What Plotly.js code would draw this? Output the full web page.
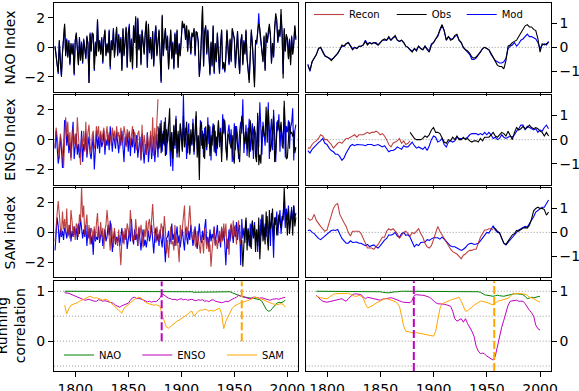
<!DOCTYPE html>
<html><head><meta charset="utf-8">
<script src="https://cdn.plot.ly/plotly-3.0.1.min.js"></script>
<style>html,body{margin:0;padding:0;background:#fff}#chart{width:579px;height:391px}</style>
</head><body><div id="chart"></div>
<script>
// ---------------- DATA ----------------
const annualStart = 1781;           // annual series NAO/ENSO/SAM (Mod, NAO Obs) start year
const ensoRecStart = 1781, ensoObsStart = 1878;
const samRecStart = 1781, samObsStart = 1957;
const smoothStart = 1782, ensoSmObsStart = 1878, samSmObsStart = 1956; // biennial smoothed
const corrStart = 1790;             // biennial running correlations
const xTickVals = [1800, 1850, 1900, 1950, 2000];
const legendNames = ['Recon', 'Obs', 'Mod'];
const corrNames = ['NAO', 'ENSO', 'SAM'];
const yTitles = ['NAO Index', 'ENSO Index', 'SAM index', 'Running<br>correlation'];

const naoObs = [0.0,-0.8,-1.2,-1.7,0.5,-1.1,-1.9,-0.4,0.6,1.6,
-0.6,0.5,-0.7,0.4,-1.1,0.3,-0.5,0.2,-1.8,0.4,
1.0,-0.5,-1.2,0.6,-0.9,0.3,-1.0,0.5,-0.4,-0.7,
0.8,0.2,-2.4,0.9,-0.3,1.0,0.8,-1.5,0.3,-0.6,
1.9,-0.3,0.4,-0.5,0.6,-1.0,0.5,1.2,-0.6,0.2,
-0.4,1.1,-1.3,0.4,-0.2,1.2,-0.7,0.6,1.4,-0.5,
0.8,-0.4,0.6,-1.6,1.3,-0.6,0.7,1.4,-1.3,0.9,
1.4,-1.0,0.5,-1.4,1.5,0.3,2.1,-1.4,2.0,-0.2,
0.8,-1.2,1.1,0.4,-0.5,1.0,1.8,-1.3,1.6,-0.4,
0.6,-0.8,1.1,-1.2,0.8,1.5,-0.6,0.3,1.2,-0.5,
-2.3,2.2,-0.6,0.5,1.3,-0.2,0.7,-1.5,0.4,1.2,
-0.8,0.3,-1.4,0.9,-0.5,1.2,-1.4,0.2,-0.6,0.8,
1.8,1.3,1.6,0.5,1.5,-0.3,1.2,0.6,-0.4,1.0,
0.7,1.3,-0.5,1.1,0.9,0.4,-2.0,-1.0,0.8,2.8,
-1.3,1.0,1.5,-0.4,1.2,-0.6,-1.8,0.4,-1.2,1.5,
-1.7,0.3,-0.9,1.0,-0.5,-1.7,0.2,1.2,-1.4,-1.0,
-1.6,-0.6,1.2,0.3,-1.1,0.6,-0.9,1.3,0.8,0.6,
-1.4,0.2,1.1,-0.6,-1.8,0.3,0.9,-1.2,0.4,-0.5,
1.2,-0.8,-1.8,-2.4,-0.6,1.2,0.2,-1.2,-2.7,0.5,
0.3,1.1,1.6,1.3,0.6,-0.2,-1.0,0.8,-1.6,1.0,
0.4,1.1,1.6,0.9,-1.1,0.3,-0.6,1.4,2.3,1.9,
0.4,1.2,0.8,2.6,1.0,-2.1,1.3,-0.3,0.9,0.5,
-0.8,0.5,-1.2,0.7,-0.5,0.2,1.5,0.6];
const naoMod = [0.1,-0.7,-1.3,-1.8,0.4,-1.0,-2.0,-0.3,0.7,1.5,
-0.5,0.6,-0.6,0.5,-1.2,0.2,-0.4,0.3,-1.9,0.5,
0.9,-0.6,-1.1,0.7,-0.8,0.4,-1.1,0.6,-0.3,-0.8,
0.7,0.3,-2.4,1.0,-0.2,0.9,0.9,-1.6,0.4,-0.5,
1.8,-0.2,0.5,-0.4,0.7,-1.1,0.6,1.1,-0.5,0.3,
-0.3,1.2,-1.5,0.5,-0.1,1.3,-0.6,0.7,1.3,-0.6,
0.9,-0.3,0.7,-1.5,1.2,-0.5,0.8,1.3,-1.4,1.0,
1.6,-0.9,0.6,-1.5,1.4,0.4,2.0,-1.3,1.9,-0.1,
0.9,-1.1,1.2,0.5,-0.4,0.9,1.7,-1.4,1.5,-0.3,
0.7,-0.7,1.0,-1.3,0.9,1.4,-0.5,0.4,1.1,-0.6,
-2.4,2.1,-0.5,0.6,1.2,-0.1,0.8,-1.4,0.5,1.1,
-0.7,0.4,-1.5,1.0,-0.4,1.1,-1.3,0.3,-0.5,0.7,
1.7,1.4,1.5,0.6,1.4,-0.2,1.1,0.7,-0.5,0.9,
0.8,1.2,-0.6,1.0,1.0,0.3,-1.9,-1.1,0.9,2.6,
-1.2,1.1,1.4,-0.5,1.1,-0.7,-1.9,0.3,-1.3,1.4,
-1.8,0.2,-1.0,0.9,-0.6,-1.8,0.1,1.1,-1.5,-1.1,
-1.7,-0.7,1.1,0.2,-1.2,0.5,-1.0,1.2,0.7,0.5,
-1.3,0.3,1.0,-0.7,-1.7,0.4,0.8,-1.1,0.5,-0.4,
1.1,-0.7,-1.6,-2.2,-0.5,1.0,0.3,-1.0,-2.4,0.4,
0.2,1.0,2.3,1.0,0.5,-0.3,-0.9,0.7,-1.5,0.8,
0.3,1.0,1.3,0.8,-1.0,0.2,-0.7,1.2,2.0,1.6,
0.3,1.0,0.7,2.2,0.9,-1.8,1.2,-0.2,0.8,0.6,
-0.7,0.6,-1.1,0.8,-0.4,0.3,1.4,0.5];

const ensoRecon = [-0.5,0.8,0.2,-0.6,-1.3,0.4,-0.2,-0.8,-1.9,0.3,
1.5,0.2,1.2,-0.4,0.5,-1.4,0.1,0.8,-0.3,0.4,
-0.6,1.5,0.3,-1.0,-1.7,0.2,-0.5,0.6,-0.8,1.2,
-1.0,0.5,1.0,-0.4,-0.9,0.3,0.6,-0.6,-0.3,0.9,
0.2,0.9,-0.3,0.6,-0.2,0.4,0.8,-0.5,0.3,0.9,
-0.2,0.5,0.2,-0.4,0.8,0.1,0.6,-0.3,0.9,0.2,
0.5,-0.6,0.8,0.3,-0.2,0.9,0.4,-0.5,0.7,0.1,
0.6,-0.4,0.3,0.9,-0.3,0.5,0.2,-0.7,0.4,0.6,
-0.4,-1.3,1.0,-0.8,0.3,-0.5,-1.0,0.4,-0.6,-0.9,
0.6,-0.9,1.5,-1.1,0.8,-0.6,1.2,2.7];
const ensoMod = [-0.6,0.6,-0.5,-1.6,-1.0,0.2,-0.6,-1.9,-0.8,1.3,
1.2,-0.4,0.4,-0.9,-0.2,-1.2,0.3,1.2,-1.3,-0.5,
0.4,-1.0,-0.3,-1.2,-0.8,0.6,-1.5,-0.3,-0.7,0.5,
-1.2,-0.4,0.2,-0.9,-1.3,-0.5,0.3,-2.0,-0.8,0.6,
-0.6,0.2,-0.9,0.4,-0.5,-0.2,0.6,-1.0,0.0,-0.4,
0.3,-0.7,0.9,-0.3,-0.8,0.4,-0.2,-0.6,0.5,-0.3,
-0.9,0.3,-0.4,0.6,-0.7,-1.5,0.2,-0.4,0.4,-0.8,
0.5,-1.1,0.1,-0.5,0.7,-0.9,-0.2,0.3,-1.2,-0.4,
0.2,-1.4,0.4,-0.7,-1.6,-0.3,-1.0,0.5,-1.5,-0.6,
0.3,-1.3,-0.4,0.2,-1.5,-0.7,0.4,-1.2,0.8,-0.5,
1.3,-0.8,0.6,-0.4,1.5,-1.0,0.2,1.1,-0.3,-1.8,
0.5,-2.1,0.9,-0.6,1.6,-1.2,0.4,-0.8,1.0,0.2,
-0.7,3.0,-0.5,0.8,-1.3,0.3,1.1,-0.9,0.2,-0.4,
1.4,-1.0,0.5,1.6,-0.6,0.2,-1.1,1.3,-0.4,0.6,
-1.2,0.8,0.1,-0.7,1.5,-0.3,0.9,-1.4,0.4,1.1,
-0.8,0.6,-1.1,0.3,1.2,-0.5,0.8,-0.9,1.7,0.4,
1.3,-0.6,-1.2,0.5,1.0,-0.3,0.7,-1.5,0.2,1.1,
-0.7,0.9,0.3,-1.3,0.6,1.2,0.4,2.7,-0.9,0.3,
1.0,-1.1,0.5,1.4,-0.8,0.2,1.1,-1.3,0.7,0.4,
-1.2,1.6,-0.5,2.5,0.3,-1.0,1.2,0.6,-0.4,1.3,
0.8,2.5,-1.3,0.5,1.4,-0.7,2.0,0.3,-1.5,1.2,
0.6,1.7,-0.8,1.0,0.4,-0.3,2.2,-1.2,0.9,0.5,
1.3,-0.6,0.8,1.1,2.1,-1.4,0.6,1.0];
const ensoObs = [0.9,
-0.6,1.1,-0.9,0.4,-0.3,1.2,-1.1,0.7,-0.2,0.9,
2.1,-0.8,0.5,-1.3,1.0,-0.4,1.4,-0.9,0.6,-1.2,
1.1,0.3,-0.8,1.6,-0.5,0.2,1.2,-0.9,0.4,-1.0,
0.7,-0.3,1.1,-0.8,0.5,1.9,-1.2,0.3,-2.7,0.8,
1.2,-0.6,0.4,-1.3,0.9,-0.5,0.6,1.0,-1.1,0.3,
-0.4,0.8,1.0,-0.9,0.2,-0.6,1.3,-0.2,0.5,-1.5,
0.6,1.4,1.0,-0.8,-1.4,0.4,0.2,-0.3,-0.6,0.3,
-1.2,-1.6,0.9,0.2,-0.5,-1.0,-1.5,0.4,1.6,1.0,
0.2,-0.3,0.5,-0.6,0.8,-1.2,1.3,0.4,-0.7,0.6,
0.9,-1.1,-1.5,1.8,-1.7,-1.0,-1.6,0.5,0.9,0.2,
0.4,2.2,-0.2,2.0,0.9,-0.8,-0.3,1.0,1.6,-1.5,
-0.9,0.4,1.3,0.8,0.5,1.2,-0.4,-0.6,2.6,0.9,
-1.3,-1.2,-0.2,1.2,0.4,0.5,0.2,0.6,-0.9,-0.5];

const samRecon = [-0.6,0.8,1.3,2.1,1.0,0.3,-0.2,1.4,0.2,0.9,
-0.1,1.6,-0.3,0.5,-0.4,1.5,0.8,-0.2,0.4,-0.5,
0.6,0.4,-0.3,1.2,0.7,3.0,1.0,1.8,-0.2,0.5,
1.2,-0.4,0.5,-0.8,0.3,0.1,-0.6,0.4,-0.5,0.6,
1.3,-0.2,-0.5,0.7,-0.3,0.3,-1.1,0.2,0.5,1.5,
0.5,-0.6,-1.2,0.6,-0.2,-1.0,0.3,-0.7,-0.4,-0.9,
0.2,-1.3,-2.2,-0.5,0.1,-0.8,0.3,-0.4,0.6,0.2,
-0.3,1.5,0.4,-0.6,-0.2,-0.5,0.9,-0.3,-0.9,0.4,
-0.2,0.5,-0.6,-1.0,0.2,-0.3,0.8,-0.4,0.6,0.9,
-0.2,0.8,1.9,0.5,-0.3,-0.7,0.4,-0.2,-0.6,-0.3,
0.6,0.3,-0.4,1.1,0.2,-1.4,-0.5,-1.7,-0.2,0.4,
-0.8,-0.6,-1.2,0.5,-0.9,-0.3,-1.0,-2.0,0.5,-0.4,
0.3,1.0,1.8,-0.5,0.4,-0.2,0.6,1.8,0.5,-0.3,
-0.5,0.2,-0.8,-1.0,0.1,-0.3,-0.9,-1.4,-0.2,-0.6,
-1.4,0.3,-0.7,-1.1,-0.4,-1.3,-0.8,-2.3,-1.2,-0.6,
0.3,-0.9,-0.5,-1.1,-0.2,0.1,-0.7,0.4,-0.6,0.6,
-0.3,0.6,-1.0,-0.5,-1.5,0.2,0.6,-0.4,0.8,-0.2,
0.5,-0.8,0.3,0.8,-0.5,-0.8,0.4];
const samMod = [-1.2,0.0,1.0,0.4,-0.7,0.2,-0.3,0.1,-0.5,0.3,
0.1,-0.4,0.2,-0.2,0.5,-0.6,0.1,-0.3,0.4,-0.2,
0.3,-0.5,0.6,-0.1,0.9,0.3,-0.4,0.2,-0.3,0.5,
-0.9,0.1,-0.4,0.3,-0.8,-0.2,-1.5,0.2,-0.6,-0.3,
-0.5,0.4,-0.7,-0.2,0.1,-0.9,-0.4,0.2,-0.6,-0.3,
0.5,-0.2,0.8,-0.6,-1.3,-0.4,0.1,-0.8,-0.3,-0.6,
-0.2,-0.9,-0.4,0.3,-0.7,-0.1,-0.5,0.2,-1.1,-0.4,
0.1,-0.6,0.9,-0.3,-0.8,0.2,-0.5,-0.1,-0.9,0.3,
-0.7,-1.2,-0.3,0.2,-0.9,-0.5,-1.0,-0.4,0.1,-0.6,
-0.2,0.5,-0.8,-1.4,-0.3,0.3,-0.6,-0.1,-0.9,0.2,
-0.5,-1.0,0.4,-0.7,-2.0,-0.4,-0.3,0.1,-0.8,-0.4,
0.6,-0.5,-0.1,-0.9,-0.3,0.4,-0.7,-0.2,-1.0,-0.3,
0.2,-0.6,-1.2,0.3,-0.4,-0.8,0.1,-0.5,0.5,-0.2,
-0.9,-0.3,0.4,-0.6,-1.1,-0.2,0.6,-0.4,-0.7,0.1,
-0.5,0.3,0.9,-0.8,-0.3,-1.0,0.2,-0.6,-0.1,-0.4,
0.4,-0.8,-0.3,0.5,-0.7,-0.2,-1.0,0.3,-0.5,0.1,
-0.8,-2.2,-0.4,-1.1,0.2,-0.6,0.5,0.0,-0.7,0.4,
-0.3,0.7,-0.5,0.2,0.5,-2.2,0.9,-0.4,0.3,-0.7,
0.8,-0.5,0.3,-0.9,0.6,-1.1,0.4,-0.3,0.7,-0.6,
0.2,-1.3,0.5,-1.0,0.9,-0.2,1.2,-0.5,0.6,-0.3,
1.1,-0.4,0.8,-0.9,1.3,0.2,-1.7,1.0,0.5,1.4,
-0.2,0.9,1.5,-0.1,0.7,1.2,2.0,0.3,1.6,0.8,
1.8,0.2,1.1,1.7,0.5,1.8,0.9,1.3];
const samObs = [-0.5,-2.3,-0.8,0.4,1.0,-1.2,0.2,-0.6,-1.0,0.3,
0.8,-0.4,0.5,-1.3,0.2,-0.9,1.0,-1.8,0.5,1.2,
-0.6,0.4,-0.8,1.4,-0.3,-1.2,1.5,0.2,0.7,1.6,
-0.5,0.9,1.0,-0.2,0.5,1.2,0.6,0.3,1.1,0.8,
3.0,1.3,1.1,-0.2,1.6,-0.1,0.8,1.5,-0.2,1.8,0.4,1.0];

// smoothed (biennial samples)
const naoSmObs = [-0.75,-0.95,-0.6,-0.45,-0.3,-0.05,0.0,-0.2,-0.35,-0.4,
-0.45,-0.55,-0.45,-0.35,-0.25,-0.1,0.1,0.05,0.15,0.2,
0.05,-0.1,0.0,-0.05,0.05,0.05,0.1,0.25,0.1,0.2,
0.15,0.2,0.15,0.1,0.2,0.3,0.35,0.3,0.45,0.3,
0.4,0.5,0.3,0.25,0.3,0.2,0.05,0.0,-0.1,-0.2,
-0.05,-0.15,0.05,-0.05,-0.1,0.05,-0.1,-0.2,0.1,0.2,
0.35,0.5,0.75,0.95,0.7,0.3,0.45,0.3,0.35,0.5,
0.55,0.3,0.2,0.0,-0.1,-0.15,-0.25,-0.4,-0.45,-0.4,
-0.3,-0.2,-0.05,0.0,-0.05,-0.1,-0.25,-0.4,-0.6,-0.75,
-0.8,-0.8,-0.9,-0.55,0.05,0.1,0.2,0.25,0.3,0.45,
0.6,0.75,0.9,0.95,0.85,0.85,0.75,0.7,0.35,-0.2,
0.15,0.1,0.15,0.2];
const naoSmMod = [-0.7,-1.0,-0.6,-0.45,-0.3,-0.05,0.0,-0.15,-0.35,-0.4,
-0.45,-0.5,-0.45,-0.35,-0.25,-0.1,0.05,0.05,0.15,0.2,
0.05,-0.05,0.0,-0.05,0.05,0.05,0.1,0.3,0.15,0.2,
0.15,0.2,0.2,0.1,0.2,0.3,0.3,0.3,0.4,0.3,
0.4,0.45,0.3,0.25,0.3,0.2,0.05,0.0,-0.1,-0.15,
-0.05,-0.1,0.05,-0.05,-0.1,0.05,-0.05,-0.15,0.15,0.2,
0.35,0.45,0.7,0.9,0.7,0.3,0.45,0.35,0.35,0.45,
0.5,0.3,0.2,0.0,-0.1,-0.2,-0.3,-0.5,-0.5,-0.45,
-0.3,-0.2,-0.05,0.0,-0.05,-0.1,-0.3,-0.45,-0.55,-0.6,
-0.65,-0.65,-0.6,-0.45,-0.05,0.05,0.1,0.2,0.05,0.15,
0.3,0.35,0.45,0.55,0.45,0.45,0.4,0.35,0.2,-0.05,
0.1,0.15,0.1,0.25];
const ensoSmRecon = [-0.35,-0.35,-0.2,-0.1,-0.05,0.05,0.2,0.15,0.0,0.0,
-0.1,-0.2,-0.35,-0.25,-0.15,-0.1,-0.15,-0.05,0.05,0.05,
0.1,0.15,0.2,0.1,0.2,0.2,0.2,0.25,0.3,0.25,
0.3,0.3,0.35,0.3,0.2,0.25,0.15,0.0,-0.2,-0.3,
-0.15,-0.1,-0.05,0.05,-0.15,-0.05,-0.2,-0.15,-0.05];
const ensoSmMod = [-0.45,-0.55,-0.4,-0.3,-0.2,-0.12,-0.05,0.05,-0.15,-0.2,
-0.35,-0.45,-0.5,-0.6,-0.6,-0.7,-0.85,-0.75,-0.55,-0.4,
-0.25,-0.2,-0.25,-0.2,-0.2,-0.2,-0.22,-0.25,-0.2,-0.2,
-0.2,-0.25,-0.22,-0.2,-0.25,-0.3,-0.25,-0.4,-0.5,-0.45,
-0.45,-0.4,-0.3,-0.35,-0.4,-0.25,-0.3,-0.3,-0.2,-0.1,
-0.25,-0.35,-0.3,-0.35,-0.4,-0.3,-0.45,-0.25,0.0,0.15,
0.1,-0.1,-0.05,0.05,-0.2,-0.3,-0.1,-0.05,-0.1,-0.05,
0.1,0.05,0.05,0.05,0.05,0.1,0.2,0.25,0.25,0.25,
0.2,0.25,0.2,0.3,0.2,0.3,0.2,0.05,0.1,0.0,
0.05,0.2,0.1,0.05,0.1,0.15,0.1,0.2,0.35,0.45,
0.6,0.6,0.4,0.55,0.5,0.45,0.4,0.45,0.3,0.4,
0.35,0.5,0.6,0.45];
const ensoSmObs = [0.3,0.15,0.05,0.0,0.0,0.0,0.05,0.15,0.1,0.2,
0.4,0.5,0.3,0.3,0.25,0.1,-0.1,-0.15,0.0,-0.05,
0.1,0.0,0.15,0.0,0.0,0.1,0.0,0.05,-0.05,-0.1,
-0.05,-0.05,-0.1,0.05,-0.05,0.1,0.1,0.1,0.2,0.3,
0.15,0.1,0.2,0.3,0.25,0.15,0.35,0.15,0.0,0.3,
0.5,0.4,0.45,0.55,0.45,0.5,0.6,0.5,0.45,0.5,
0.45,0.35,0.3,0.15,0.3,0.15];
const samSmRecon = [0.6,0.5,0.55,0.75,0.5,0.35,0.25,0.15,0.05,0.1,
0.4,0.75,1.0,1.15,1.2,0.75,0.55,0.4,0.25,0.0,
-0.15,0.05,0.05,0.05,0.05,-0.05,-0.25,-0.5,-0.65,-0.65,
-0.65,-0.7,-0.6,-0.5,-0.35,-0.2,-0.2,0.05,0.15,0.1,
0.15,0.05,-0.05,-0.25,-0.1,0.0,0.05,-0.05,-0.15,0.0,
-0.05,0.05,0.15,-0.05,-0.2,-0.45,-0.6,-0.65,-0.55,-0.3,
0.0,0.25,0.05,-0.1,-0.25,-0.45,-0.6,-0.7,-0.8,-0.85,
-0.9,-1.0,-1.1,-0.95,-0.9,-0.8,-0.75,-0.75,-0.7,-0.7,
-0.4,-0.2,-0.05,0.1,0.1,0.15,0.15,0.1];
const samSmMod = [0.08,0.1,0.0,-0.05,-0.15,-0.25,-0.3,-0.22,-0.15,-0.05,
0.02,0.08,0.1,0.08,0.12,-0.1,-0.25,-0.35,-0.45,-0.45,
-0.35,-0.42,-0.42,-0.4,-0.45,-0.45,-0.5,-0.55,-0.5,-0.6,
-0.55,-0.52,-0.6,-0.65,-0.55,-0.42,-0.32,-0.25,-0.1,-0.12,
-0.08,0.0,-0.15,-0.2,-0.05,0.0,-0.12,-0.1,-0.2,-0.4,
-0.6,-0.5,-0.55,-0.42,-0.4,-0.4,-0.3,-0.33,-0.27,-0.22,
-0.22,-0.22,-0.28,-0.2,-0.28,-0.38,-0.5,-0.57,-0.6,-0.6,
-0.65,-0.7,-0.75,-0.7,-0.63,-0.52,-0.46,-0.45,-0.5,-0.48,
-0.45,-0.35,-0.22,-0.08,0.0,-0.03,0.1,0.28,0.1,0.0,
-0.02,-0.2,-0.45,-0.52,-0.42,-0.3,-0.23,-0.12,-0.02,0.1,
0.15,0.2,0.25,0.22,0.35,0.5,0.65,0.85,0.92,1.0,
1.05,1.05,1.2,1.35];
const samSmObs = [0.2,0.15,0.05,-0.02,-0.25,-0.45,-0.5,-0.35,-0.25,-0.1,
-0.05,0.08,0.05,0.12,0.18,0.2,0.18,0.3,0.55,0.9,
1.0,1.05,1.0,1.0,0.95,0.72,0.85];

// running correlations (biennial)
const corrNaoL = [1.0,1.0,1.0,1.0,1.0,1.0,1.0,1.0,1.0,1.0,
1.0,1.0,1.0,1.0,1.0,1.0,1.0,1.0,1.0,1.0,
1.0,1.0,1.0,1.0,1.0,0.99,0.99,1.0,1.0,1.0,
1.0,1.0,1.0,1.0,1.0,1.0,1.0,1.0,1.0,1.0,
1.0,1.0,1.0,1.0,1.0,1.0,1.0,1.0,1.0,1.0,
1.0,1.0,1.0,1.0,1.0,1.0,0.99,0.99,0.99,0.99,
0.99,0.98,0.98,0.98,0.98,0.98,0.99,0.99,0.99,0.99,
0.99,0.99,0.99,0.99,0.99,0.99,0.99,0.99,0.99,0.97,
0.95,0.93,0.91,0.9,0.89,0.88,0.87,0.87,0.86,0.86,
0.85,0.84,0.83,0.8,0.72,0.64,0.6,0.61,0.66,0.72,
0.76,0.78,0.77,0.79,0.82];
const corrEnsoL = [0.97,0.97,0.96,0.94,0.92,0.9,0.88,0.86,0.84,0.83,
0.82,0.84,0.83,0.81,0.8,0.8,0.83,0.82,0.8,0.81,
0.8,0.79,0.78,0.76,0.72,0.7,0.68,0.71,0.73,0.74,
0.76,0.82,0.87,0.88,0.85,0.86,0.84,0.82,0.8,0.79,
0.8,0.78,0.8,0.79,0.82,0.87,0.95,0.92,0.88,0.86,
0.85,0.83,0.84,0.82,0.84,0.85,0.83,0.84,0.82,0.83,
0.84,0.82,0.81,0.83,0.82,0.83,0.8,0.81,0.79,0.82,
0.83,0.8,0.79,0.78,0.77,0.78,0.8,0.79,0.82,0.84,
0.86,0.88,0.92,0.9,0.89,0.88,0.87,0.85,0.86,0.88,
0.88,0.87,0.86,0.87,0.85,0.84,0.83,0.82,0.84,0.85,
0.85,0.84,0.86,0.87,0.88];
const corrSamL = [0.72,0.55,0.65,0.72,0.74,0.75,0.77,0.8,0.82,0.84,
0.86,0.88,0.9,0.88,0.86,0.87,0.85,0.83,0.82,0.84,
0.83,0.8,0.76,0.72,0.68,0.64,0.58,0.56,0.66,0.7,
0.72,0.76,0.8,0.84,0.86,0.88,0.87,0.82,0.78,0.76,
0.75,0.74,0.72,0.73,0.71,0.7,0.52,0.38,0.28,0.26,
0.3,0.34,0.36,0.4,0.42,0.45,0.48,0.5,0.54,0.58,
0.6,0.5,0.56,0.6,0.62,0.62,0.64,0.63,0.6,0.62,
0.6,0.62,0.64,0.66,0.55,0.25,0.4,0.48,0.58,0.66,
0.7,0.73,0.75,0.77,0.78,0.8,0.81,0.82,0.84,0.87,
0.88,0.87,0.86,0.84,0.82,0.8,0.78,0.76,0.75,0.74,
0.73,0.74,0.75,0.74,0.68];
const corrNaoR = [1.0,1.0,1.0,1.0,1.0,1.0,1.0,1.0,1.0,1.0,
1.0,1.0,1.0,1.0,1.0,1.0,1.0,1.0,1.0,1.0,
1.0,1.0,1.0,1.0,0.99,0.99,0.99,0.99,0.99,0.99,
0.99,0.98,0.97,0.97,0.97,0.98,0.99,0.99,0.99,1.0,
1.0,1.0,1.0,1.0,1.0,1.0,1.0,1.0,1.0,1.0,
1.0,1.0,1.0,1.0,1.0,1.0,1.0,1.0,1.0,1.0,
1.0,1.0,1.0,1.0,1.0,1.0,1.0,1.0,1.0,1.0,
1.0,1.0,1.0,1.0,1.0,1.0,0.99,0.98,0.95,0.93,
0.92,0.91,0.9,0.9,0.91,0.92,0.91,0.9,0.9,0.91,
0.92,0.94,0.95,0.95,0.95,0.95,0.94,0.93,0.9,0.85,
0.86,0.88,0.87,0.88,0.89,0.9];
const corrEnsoR = [0.92,0.87,0.83,0.8,0.79,0.78,0.79,0.8,0.81,0.82,
0.82,0.84,0.85,0.82,0.8,0.85,0.9,0.93,0.95,0.95,
0.94,0.93,0.88,0.85,0.88,0.87,0.86,0.85,0.85,0.83,
0.82,0.84,0.85,0.86,0.87,0.87,0.86,0.84,0.82,0.8,
0.79,0.78,0.78,0.78,0.77,0.82,0.92,0.93,0.93,0.92,
0.92,0.91,0.9,0.88,0.85,0.8,0.77,0.75,0.75,0.74,
0.74,0.73,0.72,0.7,0.6,0.45,0.4,0.42,0.45,0.38,
0.45,0.35,0.28,0.2,0.1,-0.1,-0.2,-0.25,-0.24,-0.26,
-0.3,-0.33,-0.35,-0.38,-0.3,-0.1,0.1,0.28,0.42,0.55,
0.72,0.8,0.81,0.82,0.82,0.8,0.8,0.8,0.75,0.68,
0.62,0.57,0.5,0.32,0.25,0.22];
const corrSamR = [0.9,0.88,0.87,0.86,0.85,0.85,0.88,0.92,0.94,0.95,
0.95,0.95,0.95,0.96,0.96,0.96,0.94,0.92,0.9,0.9,
0.92,0.9,0.86,0.75,0.67,0.68,0.7,0.73,0.76,0.78,
0.8,0.82,0.85,0.85,0.84,0.83,0.81,0.79,0.76,0.7,
0.5,0.3,0.2,0.19,0.18,0.18,0.16,0.17,0.16,0.15,
0.15,0.14,0.13,0.12,0.11,0.1,0.2,0.45,0.65,0.75,
0.77,0.78,0.8,0.82,0.84,0.85,0.87,0.88,0.8,0.68,
0.6,0.61,0.64,0.68,0.72,0.75,0.78,0.8,0.8,0.79,
0.78,0.76,0.74,0.73,0.76,0.8,0.81,0.82,0.83,0.84,
0.86,0.9,0.94,0.95,0.96,0.96,0.95,0.95,0.94,0.92,
0.88,0.87,0.85,0.83,0.8,0.78];
const breakYears = [1881.5, 1957];   // ENSO, SAM change points

// ---------------- PLOT ----------------
const W = 579, H = 391;
const FONT = 'DejaVu Sans';
const cRecon = 'rgba(178,34,34,0.85)', cObs = '#000000', cMod = '#0000ff';
const cNao = '#008000', cEnso = '#bf00bf', cSam = '#ffa500';
function yrs(start, n, step) { const a = []; for (let i = 0; i < n; i++) a.push(start + i * step); return a; }
function tr(idx, start, step, vals, color, width, extra) {
  const s = idx === 1 ? '' : String(idx);
  return Object.assign({
    type: 'scatter', mode: 'lines', x: yrs(start, vals.length, step), y: vals,
    xaxis: 'x' + s, yaxis: 'y' + s, line: { color: color, width: width },
    showlegend: false, hoverinfo: 'skip'
  }, extra || {});
}
const data = [
  tr(1, annualStart, 1, naoMod, cMod, 1.1, { showlegend: true, name: legendNames[2], legend: 'legend3' }),
  tr(1, annualStart, 1, naoObs, cObs, 1.1, { showlegend: true, name: legendNames[1], legend: 'legend2' }),
  tr(2, smoothStart, 2, naoSmMod, cMod, 1.1),
  tr(2, smoothStart, 2, naoSmObs, cObs, 1.1),
  tr(3, annualStart, 1, ensoMod, cMod, 1.1),
  tr(3, ensoRecStart, 1, ensoRecon, cRecon, 1.1, { showlegend: true, name: legendNames[0], legend: 'legend' }),
  tr(3, ensoObsStart, 1, ensoObs, cObs, 1.1),
  tr(4, smoothStart, 2, ensoSmMod, cMod, 1.1),
  tr(4, smoothStart, 2, ensoSmRecon, cRecon, 1.1),
  tr(4, ensoSmObsStart, 2, ensoSmObs, cObs, 1.1),
  tr(5, annualStart, 1, samMod, cMod, 1.1),
  tr(5, samRecStart, 1, samRecon, cRecon, 1.1),
  tr(5, samObsStart, 1, samObs, cObs, 1.1),
  tr(6, smoothStart, 2, samSmMod, cMod, 1.1),
  tr(6, smoothStart, 2, samSmRecon, cRecon, 1.1),
  tr(6, samSmObsStart, 2, samSmObs, cObs, 1.1),
  tr(7, corrStart, 2, corrNaoL, cNao, 1, { showlegend: true, name: corrNames[0], legend: 'legend4' }),
  tr(7, corrStart, 2, corrEnsoL, cEnso, 1, { showlegend: true, name: corrNames[1], legend: 'legend5' }),
  tr(7, corrStart, 2, corrSamL, cSam, 1, { showlegend: true, name: corrNames[2], legend: 'legend6' }),
  tr(8, corrStart, 2, corrNaoR, cNao, 1),
  tr(8, corrStart, 2, corrEnsoR, cEnso, 1),
  tr(8, corrStart, 2, corrSamR, cSam, 1)
];

const colX = [[54 / W, 298 / W], [305.7 / W, 550.7 / W]];
const rowPx = [[2, 91], [94, 184], [187, 277], [281, 371]];
const rowY = rowPx.map(p => [1 - p[1] / H, 1 - p[0] / H]);
const yRanges = [[[-3, 3], [-1.85, 1.85]], [[-3, 3], [-1.85, 1.85]], [[-3, 3], [-1.87, 1.87]], [[-0.6, 1.2], [-0.6, 1.2]]];
const yTicks = [[[-2, 0, 2], [-1, 0, 1]], [[-2, 0, 2], [-1, 0, 1]], [[-2, 0, 2], [-1, 0, 1]], [[0, 1], [0, 1]]];

const layout = {
  width: W, height: H, margin: { l: 0, r: 0, t: 0, b: 0 },
  paper_bgcolor: '#fff', plot_bgcolor: '#fff',
  font: { family: FONT, size: 14, color: '#000' },
  hovermode: false, shapes: [], annotations: []
};
const legBase = { orientation: 'h', xanchor: 'left', yanchor: 'middle', bgcolor: 'rgba(0,0,0,0)',
  borderwidth: 0, font: { family: FONT, size: 10, color: '#000' } };
const legPos = { legend: [309, 14], legend2: [391.7, 14], legend3: [461.7, 14],
  legend4: [59, 355], legend5: [137.3, 355], legend6: [222, 355] };
for (const k in legPos) layout[k] = Object.assign({}, legBase, { x: legPos[k][0] / W, y: 1 - legPos[k][1] / H });

for (let r = 0; r < 4; r++) {
  for (let c = 0; c < 2; c++) {
    const idx = r * 2 + c + 1, s = idx === 1 ? '' : String(idx);
    layout['xaxis' + s] = {
      domain: colX[c], anchor: 'y' + s, range: [1780, 2010], tickvals: xTickVals,
      showticklabels: r === 3, ticks: 'outside', ticklen: r === 3 ? 5 : 3, tickcolor: '#000', tickwidth: 1,
      showline: true, mirror: true, linecolor: '#000', linewidth: 1, showgrid: false, zeroline: false,
      tickfont: { family: FONT, size: 14, color: '#000' }, fixedrange: true
    };
    layout['yaxis' + s] = {
      domain: rowY[r], anchor: 'x' + s, side: c === 0 ? 'left' : 'right', range: yRanges[r][c],
      tickvals: yTicks[r][c], ticks: 'outside', ticklen: 5, tickcolor: '#000', tickwidth: 1,
      showline: true, mirror: true, linecolor: '#000', linewidth: 1, showgrid: false, zeroline: false,
      tickfont: { family: FONT, size: 14, color: '#000' }, fixedrange: true
    };
    const gl = r === 3 ? [-0.5, 0, 0.5, 1] : [0];
    gl.forEach(v => layout.shapes.push({ type: 'line', layer: 'below', xref: 'x' + s + ' domain', x0: 0, x1: 1,
      yref: 'y' + s, y0: v, y1: v, line: { color: '#808080', width: 0.8, dash: '1px,2px' } }));
  }
  layout.annotations.push({ xref: 'paper', yref: 'paper', x: (r === 3 ? 11 : 10) / W,
    y: (rowY[r][0] + rowY[r][1]) / 2, text: yTitles[r], textangle: -90, showarrow: false,
    xanchor: 'center', yanchor: 'middle', font: { family: FONT, size: 14, color: '#000' } });
}
// change-point markers
const bpCol = [cEnso, cSam];
breakYears.forEach((yr, i) => {
  layout.shapes.push({ type: 'line', layer: 'above', xref: 'x7', yref: 'y7', x0: yr, x1: yr, y0: 0, y1: 1.2,
    line: { color: bpCol[i], width: 2, dash: '8px,3px' } });
  layout.shapes.push({ type: 'line', layer: 'above', xref: 'x8', yref: 'y8 domain', x0: yr, x1: yr, y0: 0, y1: 1,
    line: { color: bpCol[i], width: 2, dash: '8px,3px' } });
});

Plotly.newPlot('chart', data, layout, { staticPlot: true, displayModeBar: false });
</script>
</body></html>
